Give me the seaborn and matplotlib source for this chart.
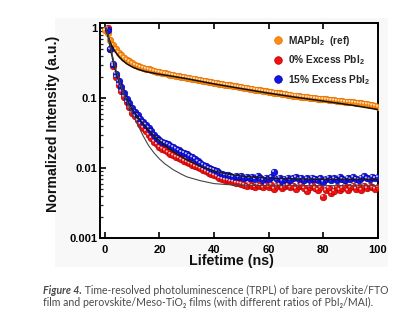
import matplotlib
matplotlib.use("Agg")
import matplotlib.pyplot as plt
import matplotlib.patches as mpatches
import matplotlib.transforms as mtransforms
from matplotlib.lines import Line2D
from matplotlib.ticker import FixedLocator, FixedFormatter, LogLocator, NullFormatter
import numpy as np
import pandas as pd
import seaborn as sns

# ---- measured TRPL decays (normalized) ----
t_ref = list(range(0, 101))
mapbi2_ref = [
    0.93, 0.86, 0.68, 0.57, 0.50, 0.45, 0.41, 0.38, 0.355, 0.335, 0.315,
    0.300, 0.290, 0.280, 0.272, 0.265, 0.258, 0.251, 0.246, 0.240, 0.236,
    0.231, 0.226, 0.222, 0.218, 0.213, 0.210, 0.206, 0.203, 0.199, 0.197,
    0.193, 0.190, 0.188, 0.184, 0.180, 0.178, 0.175, 0.172, 0.170, 0.166,
    0.164, 0.161, 0.158, 0.156, 0.154, 0.152, 0.149, 0.147, 0.145, 0.143,
    0.141, 0.139, 0.137, 0.135, 0.133, 0.131, 0.129, 0.127, 0.125, 0.123,
    0.122, 0.120, 0.118, 0.117, 0.115, 0.114, 0.112, 0.111, 0.109, 0.108,
    0.107, 0.105, 0.104, 0.103, 0.102, 0.101, 0.0995, 0.0985, 0.0975, 0.097,
    0.096, 0.095, 0.094, 0.093, 0.092, 0.091, 0.090, 0.089, 0.088, 0.088,
    0.087, 0.086, 0.085, 0.084, 0.083, 0.082, 0.081, 0.079, 0.078, 0.076,
]

t_film = list(range(1, 101))
excess_0 = [
    1.0, 0.50, 0.29, 0.20, 0.155, 0.125, 0.105, 0.088, 0.074, 0.062,
    0.055, 0.048, 0.043, 0.038, 0.034, 0.030, 0.027, 0.024, 0.022, 0.020,
    0.019, 0.018, 0.0168, 0.016, 0.0152, 0.0145, 0.014, 0.0133, 0.0127, 0.0122,
    0.0117, 0.0112, 0.0106, 0.0103, 0.0099, 0.0094, 0.0090, 0.0086, 0.0082, 0.0079,
    0.0076, 0.0072, 0.0070, 0.0068, 0.0067, 0.0065, 0.0064, 0.0062, 0.0061, 0.0060,
    0.0058, 0.0055, 0.0059, 0.0056, 0.0054, 0.0058, 0.0056, 0.0053, 0.0057, 0.0054,
    0.0058, 0.0051, 0.0055, 0.0058, 0.0052, 0.0055, 0.0057, 0.0053, 0.0056, 0.0051,
    0.0055, 0.0058, 0.0052, 0.0047, 0.0054, 0.0057, 0.0052, 0.0049, 0.0053, 0.0039,
    0.0048, 0.0052, 0.0044, 0.0047, 0.0054, 0.0049, 0.0052, 0.0055, 0.0048, 0.0053,
    0.0056, 0.0051, 0.0054, 0.0049, 0.0055, 0.0052, 0.0056, 0.0053, 0.0051, 0.0054,
]
excess_15 = [
    0.95, 0.50, 0.31, 0.225, 0.175, 0.145, 0.120, 0.098, 0.084, 0.072,
    0.064, 0.057, 0.051, 0.046, 0.042, 0.038, 0.034, 0.030, 0.027, 0.025,
    0.024, 0.023, 0.022, 0.021, 0.020, 0.019, 0.018, 0.017, 0.0165, 0.0158,
    0.0150, 0.0143, 0.0136, 0.0125, 0.0118, 0.0112, 0.0106, 0.0100, 0.0097, 0.0094,
    0.0090, 0.0086, 0.0083, 0.0080, 0.0079, 0.0077, 0.0075, 0.0078, 0.0074, 0.0076,
    0.0073, 0.0075, 0.0072, 0.0074, 0.0070, 0.0077, 0.0071, 0.0068, 0.0073, 0.0070,
    0.0074, 0.0088, 0.0069, 0.0072, 0.0066, 0.0070, 0.0073, 0.0068, 0.0071, 0.0074,
    0.0069, 0.0072, 0.0067, 0.0071, 0.0068, 0.0073, 0.0070, 0.0067, 0.0071, 0.0064,
    0.0069, 0.0073, 0.0067, 0.0071, 0.0068, 0.0075, 0.0070, 0.0067, 0.0072, 0.0069,
    0.0074, 0.0070, 0.0068, 0.0073, 0.0076, 0.0071, 0.0069, 0.0075, 0.0072, 0.0074,
]

# ---- fitted decay curves ----
t_fit_ref = [0.5, 1, 2, 3, 4, 5, 6, 8, 10, 12, 15, 20, 25, 30, 40, 50, 60, 70, 80, 90, 100]
fit_ref = [1.0, 0.80, 0.62, 0.52, 0.45, 0.40, 0.36, 0.31, 0.28, 0.26, 0.24, 0.22,
           0.205, 0.19, 0.16, 0.137, 0.118, 0.103, 0.091, 0.080, 0.069]
t_fit_15 = [0.5, 1, 2, 3, 4, 5, 6, 7, 8, 10, 12, 14, 16, 18, 20, 22, 25, 30, 35,
            40, 45, 50, 55, 60, 70, 80, 90, 100]
fit_15 = [1.0, 0.85, 0.52, 0.34, 0.24, 0.18, 0.142, 0.115, 0.096, 0.070, 0.054,
          0.043, 0.035, 0.029, 0.0245, 0.021, 0.0172, 0.0131, 0.0106, 0.0091,
          0.0082, 0.0077, 0.0074, 0.0072, 0.0070, 0.0069, 0.0069, 0.0069]
t_fit_0 = [0.5, 1, 2, 3, 4, 5, 6, 7, 8, 10, 12, 14, 16, 18, 20, 22, 25, 28, 30,
           35, 40, 45, 50, 60, 80, 100]
fit_0 = [1.0, 0.85, 0.55, 0.37, 0.26, 0.19, 0.145, 0.113, 0.090, 0.060, 0.042,
         0.029, 0.021, 0.0165, 0.0135, 0.0115, 0.0095, 0.0082, 0.0075, 0.0066,
         0.0060, 0.0058, 0.0057, 0.0056, 0.0056, 0.0056]

series_labels = [r"MAPbI$_\mathbf{2}$  (ref)", r"0% Excess PbI$_\mathbf{2}$",
                 r"15% Excess PbI$_\mathbf{2}$"]
series_colors = ["#ff8c10", "#f01010", "#1414e6"]
edge_colors = ["#e07000", "#b80000", "#0000a8"]

x_ticks = [0, 20, 40, 60, 80, 100]
y_ticks = [0.001, 0.01, 0.1, 1]
y_tick_labels = ["0.001", "0.01", "0.1", "1"]

sns.set_theme(style="ticks")
plt.rcParams["font.family"] = ["Liberation Sans", "DejaVu Sans"]
plt.rcParams["mathtext.fontset"] = "custom"
plt.rcParams["mathtext.rm"] = "Liberation Sans"
plt.rcParams["mathtext.bf"] = "Liberation Sans:bold"
plt.rcParams["mathtext.it"] = "Liberation Sans:italic"

fig = plt.figure(figsize=(3.96, 3.31), dpi=100)
fig.patch.set_facecolor("white")
# light backdrop behind the chart panel
fig.patches.append(mpatches.Rectangle((55 / 396, 1 - 267 / 331), 333 / 396, 249 / 331,
                                      transform=fig.transFigure, facecolor="#f8f8f8",
                                      edgecolor="none", zorder=-5))
ax = fig.add_axes([100 / 396, 1 - 238 / 331, 278 / 396, 215 / 331])
ax.set_zorder(1)
ax.set_facecolor("white")
ax.set_yscale("log")

frames = [
    pd.DataFrame({"t": t_ref, "v": mapbi2_ref}),
    pd.DataFrame({"t": t_film, "v": excess_0}),
    pd.DataFrame({"t": t_film, "v": excess_15}),
]

hl_offset = mtransforms.ScaledTranslation(-0.7 / 72, 0.7 / 72, fig.dpi_scale_trans)
for df, c, ec in zip(frames, series_colors, edge_colors):
    sns.scatterplot(data=df, x="t", y="v", ax=ax, s=22, color=c, edgecolor=ec,
                    linewidth=0.5, zorder=3, legend=False)
    # small glint on each bead
    sns.scatterplot(data=df, x="t", y="v", ax=ax, s=2.2, color="white",
                    edgecolor="none", alpha=0.75, zorder=4, legend=False)
    ax.collections[-1].set_offset_transform(ax.transData + hl_offset)

sns.lineplot(x=t_fit_ref, y=fit_ref, ax=ax, color="#111111", lw=1.1, zorder=5,
             sort=False, estimator=None)
sns.lineplot(x=t_fit_15, y=fit_15, ax=ax, color="#1a1a1a", lw=1.1, zorder=5,
             sort=False, estimator=None)
sns.lineplot(x=t_fit_0, y=fit_0, ax=ax, color="#444444", lw=0.8, zorder=5,
             sort=False, estimator=None)

ax.set_xlim(-1.8, 100.1)
ax.set_ylim(0.001, 1.19)

ax.xaxis.set_major_locator(FixedLocator(x_ticks))
ax.yaxis.set_major_locator(FixedLocator(y_ticks))
ax.yaxis.set_major_formatter(FixedFormatter(y_tick_labels))
ax.yaxis.set_minor_locator(LogLocator(base=10, subs=np.arange(2, 10)))
ax.yaxis.set_minor_formatter(NullFormatter())

for sp in ax.spines.values():
    sp.set_linewidth(1.4)
    sp.set_color("black")
ax.tick_params(axis="both", which="major", direction="in", length=4, width=1.2,
               labelsize=8, colors="black", top=True, right=False)
ax.tick_params(axis="y", which="major", pad=2)
ax.tick_params(axis="x", which="major", pad=5)
ax.tick_params(axis="y", which="minor", direction="in", length=2.2, width=0.9,
               right=False)
ax.tick_params(axis="x", which="minor", bottom=False, top=False)
for lab in ax.get_xticklabels() + ax.get_yticklabels():
    lab.set_fontweight("bold")

ax.set_xlabel("Lifetime (ns)", fontsize=10.3, fontweight="bold", color="#111111")
ax.set_ylabel("Normalized Intensity (a.u.)", fontsize=10.2, fontweight="bold",
              color="#111111")
ax.xaxis.set_label_coords(0.473, -0.075)
ax.xaxis.label.set_va("top")
ax.yaxis.set_label_coords(-0.145, 0.533)

handles = [Line2D([], [], marker="o", ls="none", markersize=5.5, markerfacecolor=c,
                  markeredgecolor=ec, markeredgewidth=0.5)
           for c, ec in zip(series_colors, edge_colors)]
leg = ax.legend(handles, series_labels, loc="upper left", bbox_to_anchor=(0.625, 0.95),
                frameon=False, handlelength=0.8, handletextpad=0.6, labelspacing=0.55,
                borderpad=0, borderaxespad=0,
                prop={"family": "Liberation Sans", "weight": "bold", "size": 7.3})

# caption underneath the chart
cap_kw = dict(fontsize=7.6, color="#4a4a4a", family=["Lato", "DejaVu Sans"])
head = fig.text(43 / 396, 1 - 294 / 331, "Figure 4.", fontweight="bold",
                fontstyle="italic", ha="left", va="baseline", **cap_kw)
ax.annotate(" Time-resolved photoluminescence (TRPL) of bare perovskite/FTO",
            xy=(1, 0), xycoords=head, ha="left", va="bottom",
            annotation_clip=False, **cap_kw)
fig.text(43 / 396, 1 - 305.5 / 331,
         "film and perovskite/Meso-TiO\u2082 films (with different ratios of PbI\u2082/MAI).",
         ha="left", va="baseline", **cap_kw)

fig.savefig("out.png", dpi=100)
